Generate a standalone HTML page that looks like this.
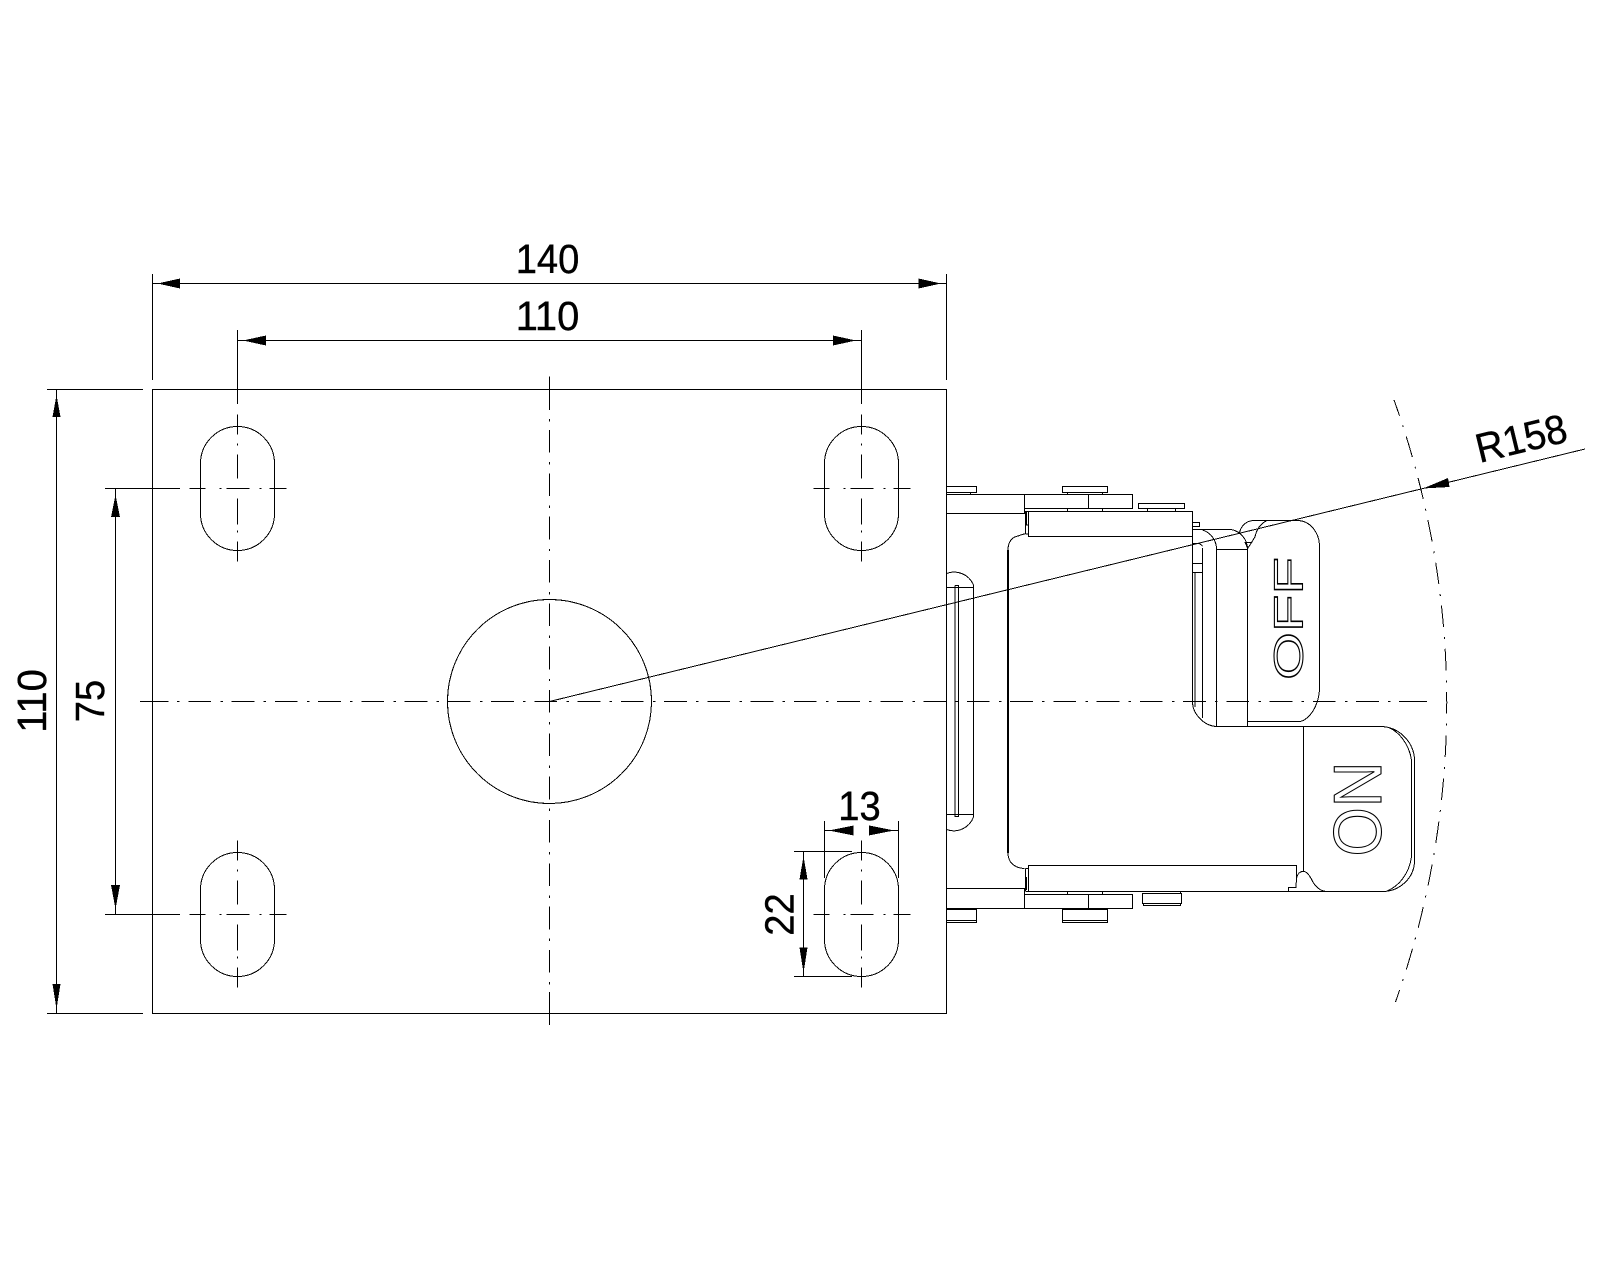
<!DOCTYPE html>
<html>
<head>
<meta charset="utf-8">
<style>
html,body{margin:0;padding:0;background:#fff;}
svg{display:block;}
.l{fill:none;stroke:#000;stroke-width:1;shape-rendering:crispEdges;}
.a{fill:#000;stroke:none;shape-rendering:crispEdges;}
.t{font-family:"Liberation Sans",sans-serif;font-size:41px;fill:#000;stroke:#000;stroke-width:.4;}
.e{font-family:"Liberation Sans",sans-serif;fill:none;stroke:#000;stroke-width:1.1;}
</style>
</head>
<body>
<svg width="1600" height="1280" viewBox="0 0 1600 1280" xmlns="http://www.w3.org/2000/svg">
<defs>
<g id="s">
<path class="l" d="M-37-25A37 37 0 0 1 37-25V25A37 37 0 0 1-37 25Z"/>
<path class="l" d="M-48 0H-32M-18 0H-16M-11 0H12M22 0H24M32 0H49M0-74V-54M0-45V-43M0-34V-10M0 10V36M0 42V44M0 53V73"/>
</g>
</defs>
<!-- plate -->
<rect class="l" x="152.5" y="389.5" width="794" height="624"/>
<!-- centre circle -->
<circle class="l" cx="549.5" cy="701.5" r="102"/>
<!-- slots -->
<use href="#s" x="237.5" y="488.5"/>
<use href="#s" x="861.5" y="488.5"/>
<use href="#s" x="237.5" y="914.5"/>
<use href="#s" x="861.5" y="914.5"/>
<!-- centre lines -->
<path class="l" d="M140 701.5H168.3M177 701.5H179.4"/>
<path class="l" stroke-dasharray="22.7 9.4 2.4 8.75" d="M188.3 701.5H1399"/>
<path class="l" d="M1399 701.5H1427"/>
<path class="l" d="M549.5 376.7V410M549.5 419V421.4"/>
<path class="l" stroke-dasharray="22.7 9.4 2.4 8.83" d="M549.5 430V992"/>
<path class="l" d="M549.5 992V1025"/>
<!-- R158 arc and radius -->
<path class="l" stroke-dasharray="21.7 10 2 9.6" stroke-dashoffset="5" d="M1394 400A897 897 0 0 1 1395.5 1002"/>
<path class="l" d="M549.5 701.5L1585 449"/>
<polygon class="a" points="1423,488.5 1448,478 1449.5,487"/>
<text class="t" transform="translate(1479.5,463) rotate(-13.67)" textLength="92.6" lengthAdjust="spacingAndGlyphs">R158</text>
<!-- dim 140 -->
<path class="l" d="M152.5 274V380M946.5 274V380M152.5 283.5H946.5"/>
<polygon class="a" points="157.5,283.5 180,278.5 180,288.5"/>
<polygon class="a" points="941,283.5 918.5,278.5 918.5,288.5"/>
<text class="t" x="547.5" y="273" text-anchor="middle" textLength="63.6" lengthAdjust="spacingAndGlyphs">140</text>
<!-- dim 110 horizontal -->
<path class="l" d="M237.5 330V404M861.5 330V404M237.5 340.5H861.5"/>
<polygon class="a" points="243,340.5 266,335.5 266,345.5"/>
<polygon class="a" points="856,340.5 833,335.5 833,345.5"/>
<text class="t" x="547.5" y="330" text-anchor="middle" textLength="63.6" lengthAdjust="spacingAndGlyphs">110</text>
<!-- dim 110 vertical -->
<path class="l" d="M47 389.5H143M47 1013.5H143M56.5 389.5V1013.5"/>
<polygon class="a" points="56.5,395 52.5,417 60.5,417"/>
<polygon class="a" points="56.5,1009 52.5,984 60.5,984"/>
<text class="t" transform="translate(46,701) rotate(-90)" text-anchor="middle" textLength="63.6" lengthAdjust="spacingAndGlyphs">110</text>
<!-- dim 75 -->
<path class="l" d="M105 488.5H180M105 914.5H180M115.5 488.5V914.5"/>
<polygon class="a" points="115.5,495 111,517 120,517"/>
<polygon class="a" points="115.5,909 111,885 120,885"/>
<text class="t" transform="translate(104,701) rotate(-90)" text-anchor="middle" textLength="42.4" lengthAdjust="spacingAndGlyphs">75</text>
<!-- dim 13 -->
<path class="l" d="M824.5 821V878M898.5 821V878M824.5 830.5H853M869 830.5H898.5"/>
<polygon class="a" points="829,830.5 853.5,825.5 853.5,835.5"/>
<polygon class="a" points="894,830.5 869,825.5 869,835.5"/>
<text class="t" x="859.5" y="820" text-anchor="middle" textLength="42.4" lengthAdjust="spacingAndGlyphs">13</text>
<!-- dim 22 -->
<path class="l" d="M794 851.5H852M794 976.5H852M803.5 851.5V976.5"/>
<polygon class="a" points="803.5,856 799.5,879.5 807.5,879.5"/>
<polygon class="a" points="803.5,973 799.5,947.5 807.5,947.5"/>
<text class="t" transform="translate(793.5,914.5) rotate(-90)" text-anchor="middle" textLength="42.4" lengthAdjust="spacingAndGlyphs">22</text>
<!-- pill against plate -->
<path class="l" d="M946.5 573.5A21 21 0 0 1 973.5 585V817A21 21 0 0 1 946.5 829.5"/>
<path class="l" d="M946.5 587.5H973.5M946.5 814.5H973.5M955 585.5V816.5H958.5V585.5H955"/>
<!-- main body -->
<rect class="a" x="1007" y="550" width="2" height="303"/>
<path class="l" d="M1008 550C1008 542 1012 537 1018 536C1021 535 1023 534 1025 534"/>
<path class="l" d="M1008 853C1008 862 1014 868 1024.5 868.5"/>
<!-- top hardware -->
<rect class="l" x="946.5" y="486.5" width="30" height="6"/>
<path class="l" d="M970.5 492V494"/>
<rect class="l" x="946.5" y="494.5" width="78" height="19"/>
<rect class="l" x="1024.5" y="494.5" width="108" height="14"/>
<path class="l" d="M1088.5 494V508"/>
<rect class="l" x="1062.5" y="486.5" width="45" height="6"/>
<path class="l" d="M1067.5 492V494M1102.5 492V494M1067.5 508V511M1102.5 508V511"/>
<rect class="l" x="1138.5" y="503.5" width="46" height="5"/>
<path class="l" d="M1147.5 508.5V511M1175.5 508.5V511"/>
<path class="l" d="M1025.5 511.5H1192.5V536.5H1028.5V511.5"/>
<path class="l" d="M1025.5 511V534M1028.5 534H1025.5M1026.5 512V525H1028"/>
<rect class="l" x="1192.5" y="522.5" width="7" height="4"/>
<!-- bottom hardware -->
<path class="l" d="M1025.5 891.5H1326"/>
<path class="l" d="M1028.5 891V865.5H1296.5V878L1296 887.5H1288.5V891"/>
<path class="l" d="M1025.5 868.5V891M1028.5 868.5H1025.5M1026.5 877V890"/>
<rect class="l" x="946.5" y="888.5" width="78" height="20"/>
<rect class="l" x="1024.5" y="894.5" width="108" height="14"/>
<path class="l" d="M1088.5 894V908M1067.5 891.5V894M1102.5 891.5V894"/>
<path class="l" d="M946.5 909.5H976.5V922.5H946.5M946.5 920.5H976.5"/>
<path class="l" d="M1062.5 909.5H1107.5V922.5H1062.5ZM1062.5 920.5H1107.5"/>
<path class="l" d="M1142.5 893.5H1181.5V903.5H1142.5ZM1143.5 891.5H1180.5V893.5M1143.5 903.5V905.5H1180.5V903.5"/>
<!-- right link -->
<path class="l" d="M1192.5 529.5H1231A20 20 0 0 1 1247.5 549.5V726"/>
<path class="l" d="M1202.5 530A20 20 0 0 1 1216.5 549.5V726.5"/>
<path class="l" d="M1216.5 549.5H1247.5"/>
<path class="l" d="M1192.5 536V703C1193 714 1204 726 1216.5 726.5H1247.5"/>
<path class="l" d="M1202.5 548V718M1192.5 543.5H1199.5L1202.5 546M1192.5 563.5H1202.5M1192.5 572.5H1202.5M1195 573V707"/>
<!-- OFF tab -->
<path class="l" d="M1239.5 532.7C1241 526 1246 521 1253 520.5H1298A22 26 0 0 1 1319.5 545V690C1318.5 703 1313 714 1305 719.5C1303 721 1301 721.3 1300 721.5H1247.5V726"/>
<path class="l" d="M1266.7 520.7C1260 524 1256.5 530 1255 536.7L1251.7 542.3H1245L1247.7 548.3L1251.7 542.3"/>
<text class="e" transform="translate(1302.7,680) rotate(-90)" font-size="41" textLength="123" lengthAdjust="spacingAndGlyphs">OFF</text>
<!-- ON tab -->
<path class="l" d="M1247.5 726.5H1381.5C1399 727 1414 742 1414.5 760V861.5C1414 878 1400 891 1383.5 891.5H1326C1320 891 1316 887 1312.7 881.7C1310 876 1307 871 1303.5 871.5C1300 871 1297.5 874 1296.5 878.3"/>
<path class="l" d="M1303.5 726.5V871M1411.5 760V857"/>
<path class="l" d="M1387 727C1399 731 1409 744 1411.5 760M1411.5 857C1409 874 1399 886 1387 891"/>
<text class="e" transform="translate(1381,856.5) rotate(-90)" font-size="68" textLength="95" lengthAdjust="spacingAndGlyphs">ON</text>
</svg>
</body>
</html>
